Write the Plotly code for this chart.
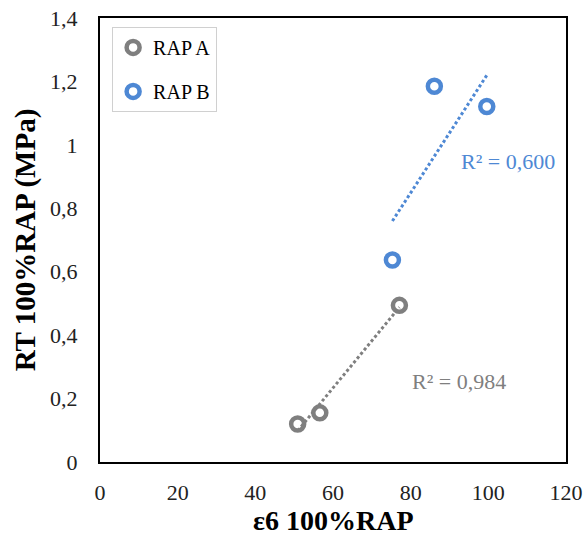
import numpy as np
import plotly.graph_objects as go

# Strain at 10^6 cycles vs. tensile strength for two RAP sources
rap_a_eps = [50.9, 56.6, 77.1]
rap_a_rt = [0.120, 0.155, 0.494]
rap_b_eps = [75.3, 86.1, 99.6]
rap_b_rt = [0.637, 1.185, 1.121]

x_ticks = [0, 20, 40, 60, 80, 100, 120]
y_ticks = [0, 0.2, 0.4, 0.6, 0.8, 1.0, 1.2, 1.4]
y_tick_text = ["0", "0,2", "0,4", "0,6", "0,8", "1", "1,2", "1,4"]

GRAY = "#7F7F7F"
BLUE = "#4E88D4"
FONT = "Liberation Serif"


def linear_trend(x, y):
    x = np.asarray(x, float)
    y = np.asarray(y, float)
    slope, intercept = np.polyfit(x, y, 1)
    xs = np.array([x.min(), x.max()])
    fit = slope * x + intercept
    r2 = 1 - np.sum((y - fit) ** 2) / np.sum((y - y.mean()) ** 2)
    return xs, slope * xs + intercept, r2


fig = go.Figure()

series = [
    ("RAP A", rap_a_eps, rap_a_rt, GRAY),
    ("RAP B", rap_b_eps, rap_b_rt, BLUE),
]

for name, xs, ys, color in series:
    tx, ty, r2 = linear_trend(xs, ys)
    fig.add_trace(go.Scatter(
        x=tx, y=ty, mode="lines", showlegend=False,
        line=dict(color=color, width=3, dash="3px,2.5px"),
        hoverinfo="skip",
    ))

for name, xs, ys, color in series:
    fig.add_trace(go.Scatter(
        x=xs, y=ys, mode="markers", name=name, legendgroup=name,
        marker=dict(symbol="circle-open", size=13,
                    line=dict(color=color, width=4.5), color=color),
    ))

fig.add_annotation(x=105.0, y=0.947, xref="x", yref="y",
                   text="R² = 0,600", showarrow=False,
                   font=dict(family=FONT, size=22, color=BLUE))
fig.add_annotation(x=92.4, y=0.253, xref="x", yref="y",
                   text="R² = 0,984", showarrow=False,
                   font=dict(family=FONT, size=22, color=GRAY))

# x-axis title placed below the tick labels
fig.add_annotation(x=0.5, y=0, xref="paper", yref="paper",
                   xanchor="center", yanchor="middle", yshift=-58,
                   text="<b>ε6 100%RAP</b>", showarrow=False,
                   font=dict(family=FONT, size=28, color="black"))

axis_common = dict(
    showline=True, linecolor="black", linewidth=2, mirror=True,
    showgrid=False, zeroline=False, ticks="", automargin=False,
    tickfont=dict(family=FONT, size=22, color="#222"),
)

fig.update_xaxes(range=[0, 120], tickvals=x_ticks, ticklabelstandoff=10,
                 **axis_common)
fig.update_yaxes(
    range=[0, 1.4], tickvals=y_ticks, ticktext=y_tick_text, ticklabelstandoff=16,
    title=dict(text="<b>RT 100%RAP (MPa)</b>",
               font=dict(family=FONT, size=29, color="black"), standoff=6),
    **axis_common,
)

fig.update_layout(
    width=587, height=539,
    margin=dict(l=100, r=21, t=18, b=77),
    plot_bgcolor="white", paper_bgcolor="white",
    legend=dict(x=0.026, y=0.98, xanchor="left", yanchor="top",
                bordercolor="#D0D0D0", borderwidth=1, bgcolor="white",
                font=dict(family=FONT, size=20, color="black"),
                tracegroupgap=15, itemwidth=30),
)

fig.write_html("out.html")
